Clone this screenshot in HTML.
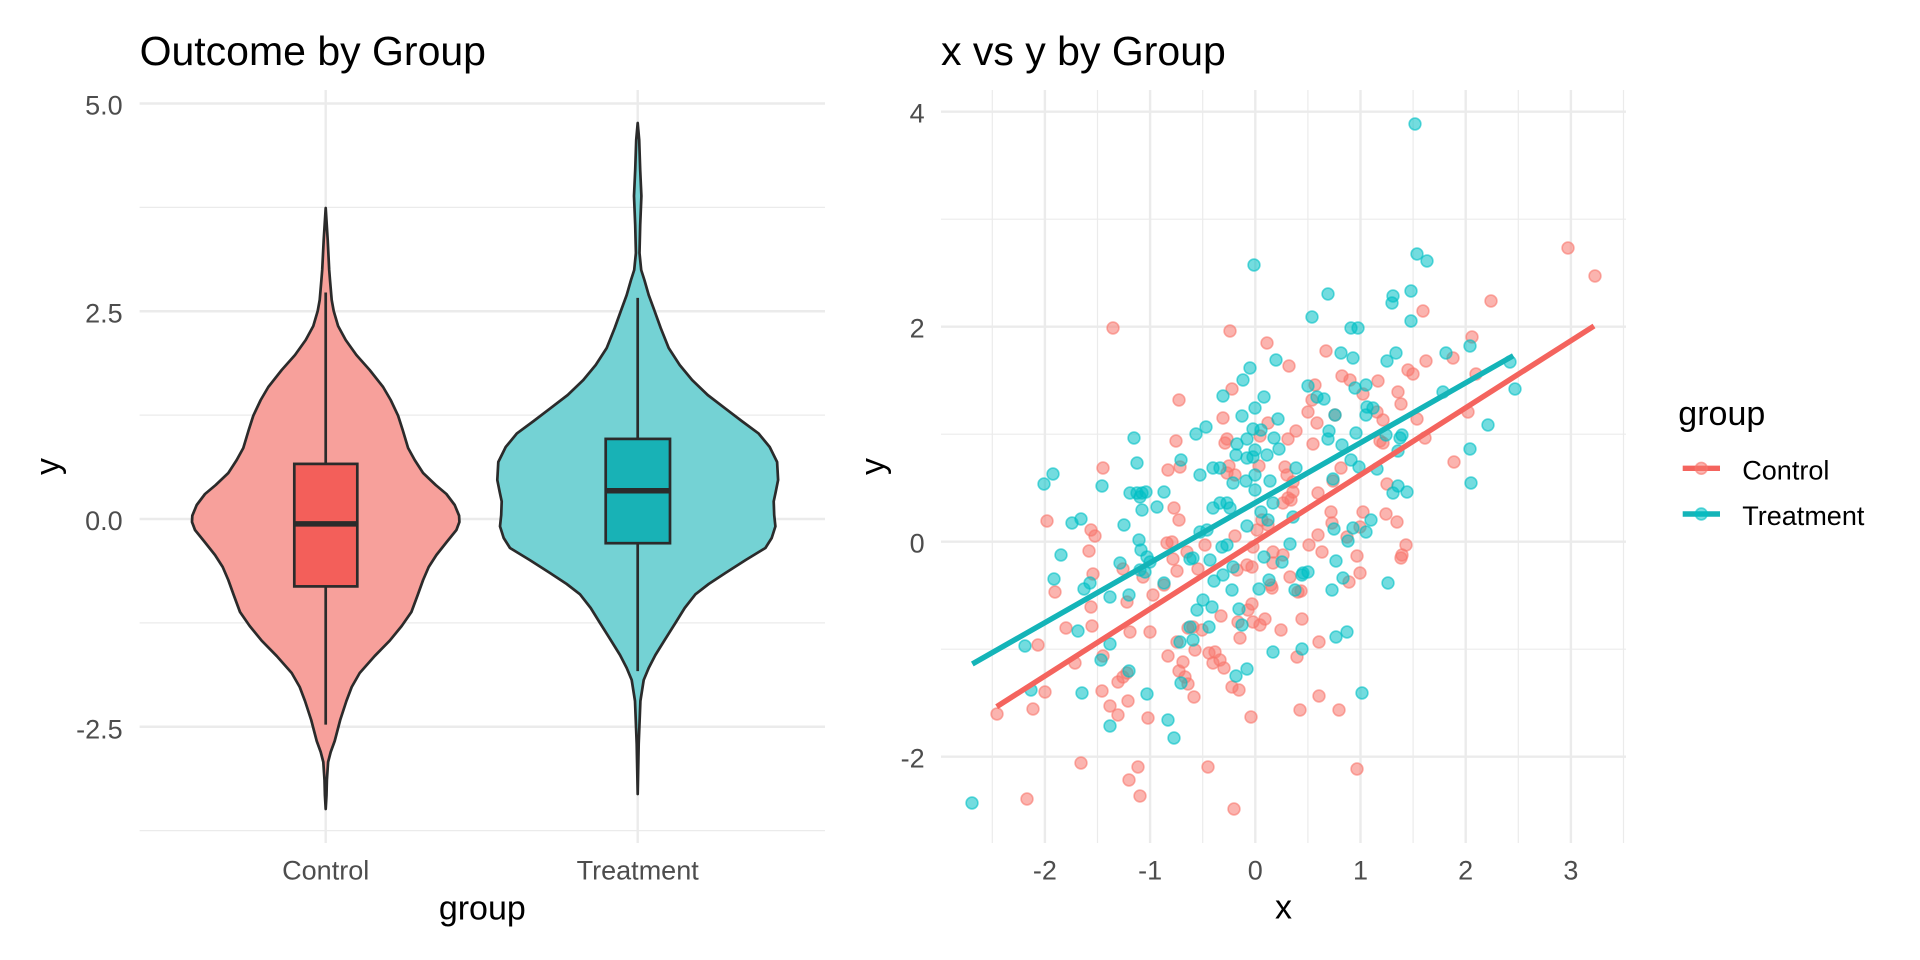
<!DOCTYPE html>
<html>
<head>
<meta charset="utf-8">
<style>
html,body{margin:0;padding:0;background:#fff;}
svg{display:block;}
text{font-family:"Liberation Sans",Arial,sans-serif;}
</style>
</head>
<body>
<svg width="1920" height="960" viewBox="0 0 1920 960" xmlns="http://www.w3.org/2000/svg">
<rect width="1920" height="960" fill="#fff"/>

<!-- ===== LEFT PANEL GRID ===== -->
<g stroke="#EBEBEB" fill="none">
  <g stroke-width="1.2">
    <line x1="139.6" y1="207.4" x2="825" y2="207.4"/>
    <line x1="139.6" y1="415.1" x2="825" y2="415.1"/>
    <line x1="139.6" y1="622.9" x2="825" y2="622.9"/>
    <line x1="139.6" y1="830.6" x2="825" y2="830.6"/>
  </g>
  <g stroke-width="2.4">
    <line x1="139.6" y1="103.5" x2="825" y2="103.5"/>
    <line x1="139.6" y1="311.25" x2="825" y2="311.25"/>
    <line x1="139.6" y1="519" x2="825" y2="519"/>
    <line x1="139.6" y1="726.75" x2="825" y2="726.75"/>
    <line x1="325.7" y1="90" x2="325.7" y2="843"/>
    <line x1="637.7" y1="90" x2="637.7" y2="843"/>
  </g>
</g>

<!-- ===== VIOLINS ===== -->
<polygon fill="#F7A09B" stroke="#2B2B2B" stroke-width="2.7" stroke-linejoin="round" points="325.7,208 323.7,240 322.2,270 321.4,280 319.7,300 317.7,311 313.3,326 305.7,340 295,355 281.7,370 268.3,387 260.7,400 253.3,415.7 248.7,430 243.3,448 236.7,460 228.3,473 215.7,485 205,494 196.7,505 192.3,515.7 192,522 195,530 204.7,542 215,555 222.7,567 228.3,580 233.7,595 240,612 249.7,626 261.7,640.7 276.7,656 291.7,673 299.7,687 305,701 311.2,720 316.7,741 320.7,752 323.3,762 324.5,780 324.9,795 325.7,809 326.5,795 326.9,780 328.1,762 330.7,752 334.7,741 340.2,720 346.4,701 351.7,687 359.7,673 374.7,656 389.7,640.7 401.7,626 411.4,612 417.7,595 423.1,580 428.7,567 436.4,555 446.7,542 456.4,530 459.4,522 459.1,515.7 454.7,505 446.4,494 435.7,485 423.1,473 414.7,460 408.1,448 402.7,430 398.1,415.7 390.7,400 383.1,387 369.7,370 356.4,355 345.7,340 338.1,326 333.7,311 331.7,300 330,280 329.2,270 327.7,240"/>
<polygon fill="#74D2D4" stroke="#2B2B2B" stroke-width="2.7" stroke-linejoin="round" points="637.7,123 636.2,140 635.2,170 634,196 635.2,225 635.9,253 634.2,270 631,280 626.7,295 621.7,308.6 614.7,328 606.7,348 595.7,365 583.3,380 567.7,395 550,408.6 533.7,421 516.7,433.6 505.7,447 498.3,462 497.3,480 499.7,492 501.7,501.4 501.2,515 500,526.4 503.7,538 510,548 529.7,560 550,573 566.7,584 580,594.3 590.7,608 600,623 610.7,640 620,655 626.7,668 631.7,680 635,701 636.7,744 637.7,794 638.7,744 640.4,701 643.7,680 648.7,668 655.4,655 664.7,640 675.4,623 684.7,608 695.4,594.3 708.7,584 725.4,573 745.7,560 765.4,548 771.7,538 775.4,526.4 774.2,515 773.7,501.4 775.7,492 778.1,480 777.1,462 769.7,447 758.7,433.6 741.7,421 725.4,408.6 707.7,395 692.1,380 679.7,365 668.7,348 660.7,328 653.7,308.6 648.7,295 644.4,280 641.2,270 639.5,253 640.2,225 641.4,196 640.2,170 639.2,140"/>

<!-- ===== BOXPLOTS ===== -->
<g stroke="#2B2B2B" stroke-width="2.7">
  <line x1="325.7" y1="292.5" x2="325.7" y2="463.9"/>
  <line x1="325.7" y1="586.4" x2="325.7" y2="724.6"/>
  <rect x="294.3" y="463.9" width="63" height="122.5" fill="#F35F5A"/>
  <line x1="294.3" y1="523.9" x2="357.3" y2="523.9" stroke-width="5.5"/>
  <line x1="637.7" y1="297.9" x2="637.7" y2="438.9"/>
  <line x1="637.7" y1="543.2" x2="637.7" y2="671.1"/>
  <rect x="605.7" y="438.9" width="64.3" height="104.3" fill="#18B2B6"/>
  <line x1="605.7" y1="490.7" x2="670" y2="490.7" stroke-width="5.5"/>
</g>

<!-- ===== LEFT PANEL TEXT ===== -->
<text x="139.6" y="65" font-size="41" fill="#000">Outcome by Group</text>
<g font-size="27" fill="#4D4D4D" text-anchor="end">
  <text x="122.7" y="114.5">5.0</text>
  <text x="122.7" y="322.3">2.5</text>
  <text x="122.7" y="530">0.0</text>
  <text x="122.7" y="738.5">-2.5</text>
</g>
<g font-size="27" fill="#4D4D4D" text-anchor="middle">
  <text x="325.7" y="879.3">Control</text>
  <text x="637.7" y="879.3">Treatment</text>
</g>
<text x="482.3" y="919.3" font-size="34" text-anchor="middle" fill="#000">group</text>
<text transform="translate(59.2,466.5) rotate(-90)" font-size="34" text-anchor="middle" fill="#000">y</text>

<!-- ===== RIGHT PANEL GRID ===== -->
<g stroke="#EBEBEB" fill="none">
  <g stroke-width="1.2">
    <line x1="941" y1="219.2" x2="1626" y2="219.2"/>
    <line x1="941" y1="434.2" x2="1626" y2="434.2"/>
    <line x1="941" y1="649.2" x2="1626" y2="649.2"/>
    <line x1="992.3" y1="90" x2="992.3" y2="843"/>
    <line x1="1097.5" y1="90" x2="1097.5" y2="843"/>
    <line x1="1202.7" y1="90" x2="1202.7" y2="843"/>
    <line x1="1307.9" y1="90" x2="1307.9" y2="843"/>
    <line x1="1413.1" y1="90" x2="1413.1" y2="843"/>
    <line x1="1518.3" y1="90" x2="1518.3" y2="843"/>
    <line x1="1623.5" y1="90" x2="1623.5" y2="843"/>
  </g>
  <g stroke-width="2.4">
    <line x1="941" y1="111.7" x2="1626" y2="111.7"/>
    <line x1="941" y1="326.7" x2="1626" y2="326.7"/>
    <line x1="941" y1="541.7" x2="1626" y2="541.7"/>
    <line x1="941" y1="756.7" x2="1626" y2="756.7"/>
    <line x1="1044.9" y1="90" x2="1044.9" y2="843"/>
    <line x1="1150.1" y1="90" x2="1150.1" y2="843"/>
    <line x1="1255.3" y1="90" x2="1255.3" y2="843"/>
    <line x1="1360.5" y1="90" x2="1360.5" y2="843"/>
    <line x1="1465.7" y1="90" x2="1465.7" y2="843"/>
    <line x1="1570.9" y1="90" x2="1570.9" y2="843"/>
  </g>
</g>

<!-- ===== SCATTER: CONTROL ===== -->
<g fill="#F8766D" fill-opacity="0.55" stroke="#F8766D" stroke-opacity="0.6" stroke-width="1.6">
<circle cx="1113" cy="328" r="5.9"/><circle cx="1230" cy="331" r="5.9"/><circle cx="1267" cy="343" r="5.9"/><circle cx="1289" cy="366" r="5.9"/><circle cx="1232" cy="389" r="5.9"/><circle cx="1179" cy="400" r="5.9"/><circle cx="1223" cy="418" r="5.9"/><circle cx="1268" cy="423" r="5.9"/><circle cx="1296" cy="431" r="5.9"/><circle cx="1260" cy="436" r="5.9"/><circle cx="1288" cy="439" r="5.9"/><circle cx="1227" cy="439" r="5.9"/><circle cx="1225" cy="443" r="5.9"/><circle cx="1176" cy="441" r="5.9"/><circle cx="1103" cy="468" r="5.9"/><circle cx="1168" cy="470" r="5.9"/><circle cx="1229" cy="466" r="5.9"/><circle cx="1259" cy="466" r="5.9"/><circle cx="1285" cy="467" r="5.9"/>
<circle cx="1568" cy="248" r="5.9"/><circle cx="1595" cy="276" r="5.9"/><circle cx="1491" cy="301" r="5.9"/><circle cx="1423" cy="311" r="5.9"/><circle cx="1472" cy="337" r="5.9"/><circle cx="1326" cy="351" r="5.9"/><circle cx="1453" cy="358" r="5.9"/><circle cx="1426" cy="361" r="5.9"/><circle cx="1408" cy="370" r="5.9"/><circle cx="1413" cy="374" r="5.9"/><circle cx="1342" cy="376" r="5.9"/><circle cx="1350" cy="380" r="5.9"/><circle cx="1378" cy="381" r="5.9"/><circle cx="1476" cy="374" r="5.9"/><circle cx="1315" cy="385" r="5.9"/><circle cx="1398" cy="392" r="5.9"/><circle cx="1363" cy="394" r="5.9"/><circle cx="1312" cy="400" r="5.9"/><circle cx="1401" cy="404" r="5.9"/><circle cx="1308" cy="412" r="5.9"/><circle cx="1377" cy="412" r="5.9"/><circle cx="1468" cy="412" r="5.9"/><circle cx="1335" cy="415" r="5.9"/><circle cx="1317" cy="423" r="5.9"/><circle cx="1383" cy="420" r="5.9"/><circle cx="1417" cy="419" r="5.9"/><circle cx="1313" cy="444" r="5.9"/><circle cx="1380" cy="441" r="5.9"/><circle cx="1383" cy="443" r="5.9"/><circle cx="1425" cy="438" r="5.9"/><circle cx="1454" cy="462" r="5.9"/><circle cx="1341" cy="468" r="5.9"/>
<circle cx="1180" cy="467" r="5.9"/><circle cx="1227" cy="473" r="5.9"/><circle cx="1235" cy="475" r="5.9"/><circle cx="1287" cy="475" r="5.9"/><circle cx="1293" cy="482" r="5.9"/>
<circle cx="1047" cy="521" r="5.9"/><circle cx="1091" cy="530" r="5.9"/><circle cx="1095" cy="536" r="5.9"/><circle cx="1174" cy="508" r="5.9"/><circle cx="1179" cy="520" r="5.9"/><circle cx="1283" cy="503" r="5.9"/><circle cx="1288" cy="498" r="5.9"/><circle cx="1257" cy="530" r="5.9"/><circle cx="1262" cy="520" r="5.9"/><circle cx="1268" cy="525" r="5.9"/><circle cx="1089" cy="551" r="5.9"/><circle cx="1167" cy="543" r="5.9"/><circle cx="1172" cy="542" r="5.9"/><circle cx="1187" cy="552" r="5.9"/><circle cx="1205" cy="545" r="5.9"/><circle cx="1235" cy="536" r="5.9"/><circle cx="1253" cy="547" r="5.9"/><circle cx="1273" cy="552" r="5.9"/><circle cx="1283" cy="555" r="5.9"/><circle cx="1093" cy="574" r="5.9"/><circle cx="1123" cy="569" r="5.9"/><circle cx="1173" cy="559" r="5.9"/><circle cx="1177" cy="571" r="5.9"/><circle cx="1198" cy="569" r="5.9"/><circle cx="1237" cy="570" r="5.9"/><circle cx="1247" cy="565" r="5.9"/><circle cx="1252" cy="567" r="5.9"/><circle cx="1273" cy="563" r="5.9"/><circle cx="1290" cy="577" r="5.9"/><circle cx="1055" cy="592" r="5.9"/><circle cx="1143" cy="577" r="5.9"/><circle cx="1153" cy="595" r="5.9"/><circle cx="1164" cy="585" r="5.9"/><circle cx="1271" cy="585" r="5.9"/><circle cx="1272" cy="588" r="5.9"/><circle cx="1091" cy="607" r="5.9"/><circle cx="1127" cy="602" r="5.9"/><circle cx="1252" cy="604" r="5.9"/><circle cx="1248" cy="610" r="5.9"/><circle cx="1221" cy="616" r="5.9"/><circle cx="1066" cy="628" r="5.9"/><circle cx="1092" cy="626" r="5.9"/><circle cx="1130" cy="632" r="5.9"/><circle cx="1150" cy="632" r="5.9"/><circle cx="1188" cy="628" r="5.9"/><circle cx="1193" cy="627" r="5.9"/><circle cx="1202" cy="630" r="5.9"/><circle cx="1238" cy="622" r="5.9"/><circle cx="1253" cy="622" r="5.9"/><circle cx="1260" cy="625" r="5.9"/><circle cx="1265" cy="619" r="5.9"/><circle cx="1281" cy="630" r="5.9"/><circle cx="1302" cy="619" r="5.9"/><circle cx="1240" cy="638" r="5.9"/><circle cx="1038" cy="645" r="5.9"/><circle cx="1177" cy="642" r="5.9"/><circle cx="1195" cy="650" r="5.9"/><circle cx="1075" cy="663" r="5.9"/><circle cx="1103" cy="656" r="5.9"/><circle cx="1168" cy="656" r="5.9"/><circle cx="1183" cy="662" r="5.9"/><circle cx="1209" cy="653" r="5.9"/><circle cx="1215" cy="652" r="5.9"/><circle cx="1220" cy="660" r="5.9"/><circle cx="1213" cy="663" r="5.9"/><circle cx="1224" cy="668" r="5.9"/><circle cx="1297" cy="657" r="5.9"/><circle cx="1118" cy="682" r="5.9"/><circle cx="1123" cy="677" r="5.9"/><circle cx="1127" cy="673" r="5.9"/><circle cx="1179" cy="671" r="5.9"/><circle cx="1185" cy="677" r="5.9"/><circle cx="1188" cy="684" r="5.9"/><circle cx="1194" cy="697" r="5.9"/><circle cx="1232" cy="687" r="5.9"/><circle cx="1239" cy="690" r="5.9"/><circle cx="1045" cy="692" r="5.9"/><circle cx="1102" cy="691" r="5.9"/><circle cx="1128" cy="701" r="5.9"/><circle cx="997" cy="714" r="5.9"/><circle cx="1033" cy="709" r="5.9"/><circle cx="1110" cy="706" r="5.9"/><circle cx="1118" cy="715" r="5.9"/><circle cx="1148" cy="718" r="5.9"/><circle cx="1251" cy="717" r="5.9"/><circle cx="1300" cy="710" r="5.9"/><circle cx="1081" cy="763" r="5.9"/><circle cx="1138" cy="767" r="5.9"/><circle cx="1129" cy="780" r="5.9"/><circle cx="1140" cy="796" r="5.9"/><circle cx="1208" cy="767" r="5.9"/><circle cx="1027" cy="799" r="5.9"/><circle cx="1234" cy="809" r="5.9"/>
<circle cx="1333" cy="481" r="5.9"/><circle cx="1318" cy="493" r="5.9"/><circle cx="1293" cy="492" r="5.9"/><circle cx="1291" cy="500" r="5.9"/><circle cx="1387" cy="484" r="5.9"/><circle cx="1331" cy="512" r="5.9"/><circle cx="1363" cy="512" r="5.9"/><circle cx="1386" cy="514" r="5.9"/><circle cx="1397" cy="522" r="5.9"/><circle cx="1332" cy="523" r="5.9"/><circle cx="1318" cy="535" r="5.9"/><circle cx="1360" cy="527" r="5.9"/><circle cx="1347" cy="537" r="5.9"/><circle cx="1309" cy="545" r="5.9"/><circle cx="1322" cy="552" r="5.9"/><circle cx="1357" cy="556" r="5.9"/><circle cx="1406" cy="545" r="5.9"/><circle cx="1402" cy="555" r="5.9"/><circle cx="1401" cy="558" r="5.9"/><circle cx="1360" cy="573" r="5.9"/><circle cx="1349" cy="582" r="5.9"/><circle cx="1298" cy="592" r="5.9"/><circle cx="1301" cy="591" r="5.9"/><circle cx="1319" cy="642" r="5.9"/><circle cx="1319" cy="696" r="5.9"/><circle cx="1339" cy="710" r="5.9"/><circle cx="1357" cy="769" r="5.9"/>
</g>

<!-- ===== SCATTER: TREATMENT ===== -->
<g fill="#00BFC4" fill-opacity="0.55" stroke="#00BFC4" stroke-opacity="0.6" stroke-width="1.6">
<circle cx="1254" cy="265" r="5.9"/><circle cx="1250" cy="368" r="5.9"/><circle cx="1276" cy="360" r="5.9"/><circle cx="1243" cy="380" r="5.9"/><circle cx="1223" cy="396" r="5.9"/><circle cx="1264" cy="397" r="5.9"/><circle cx="1255" cy="408" r="5.9"/><circle cx="1242" cy="416" r="5.9"/><circle cx="1278" cy="419" r="5.9"/><circle cx="1206" cy="427" r="5.9"/><circle cx="1196" cy="434" r="5.9"/><circle cx="1134" cy="438" r="5.9"/><circle cx="1137" cy="463" r="5.9"/><circle cx="1181" cy="460" r="5.9"/><circle cx="1253" cy="429" r="5.9"/><circle cx="1261" cy="430" r="5.9"/><circle cx="1274" cy="438" r="5.9"/><circle cx="1247" cy="439" r="5.9"/><circle cx="1237" cy="444" r="5.9"/><circle cx="1255" cy="450" r="5.9"/><circle cx="1279" cy="449" r="5.9"/><circle cx="1267" cy="455" r="5.9"/><circle cx="1236" cy="455" r="5.9"/><circle cx="1247" cy="458" r="5.9"/><circle cx="1253" cy="457" r="5.9"/><circle cx="1213" cy="468" r="5.9"/>
<circle cx="1415" cy="124" r="5.9"/><circle cx="1417" cy="254" r="5.9"/><circle cx="1427" cy="261" r="5.9"/><circle cx="1328" cy="294" r="5.9"/><circle cx="1411" cy="291" r="5.9"/><circle cx="1393" cy="296" r="5.9"/><circle cx="1392" cy="303" r="5.9"/><circle cx="1312" cy="317" r="5.9"/><circle cx="1411" cy="321" r="5.9"/><circle cx="1351" cy="328" r="5.9"/><circle cx="1358" cy="328" r="5.9"/><circle cx="1341" cy="353" r="5.9"/><circle cx="1353" cy="358" r="5.9"/><circle cx="1396" cy="353" r="5.9"/><circle cx="1387" cy="361" r="5.9"/><circle cx="1446" cy="353" r="5.9"/><circle cx="1470" cy="346" r="5.9"/><circle cx="1510" cy="362" r="5.9"/><circle cx="1515" cy="389" r="5.9"/><circle cx="1308" cy="386" r="5.9"/><circle cx="1355" cy="388" r="5.9"/><circle cx="1366" cy="385" r="5.9"/><circle cx="1443" cy="392" r="5.9"/><circle cx="1317" cy="397" r="5.9"/><circle cx="1324" cy="399" r="5.9"/><circle cx="1367" cy="407" r="5.9"/><circle cx="1373" cy="408" r="5.9"/><circle cx="1366" cy="415" r="5.9"/><circle cx="1335" cy="415" r="5.9"/><circle cx="1488" cy="425" r="5.9"/><circle cx="1329" cy="431" r="5.9"/><circle cx="1356" cy="433" r="5.9"/><circle cx="1328" cy="439" r="5.9"/><circle cx="1386" cy="435" r="5.9"/><circle cx="1402" cy="435" r="5.9"/><circle cx="1400" cy="438" r="5.9"/><circle cx="1342" cy="445" r="5.9"/><circle cx="1470" cy="449" r="5.9"/><circle cx="1398" cy="451" r="5.9"/><circle cx="1351" cy="460" r="5.9"/><circle cx="1359" cy="467" r="5.9"/><circle cx="1296" cy="468" r="5.9"/><circle cx="1377" cy="469" r="5.9"/>
<circle cx="1053" cy="474" r="5.9"/><circle cx="1044" cy="484" r="5.9"/><circle cx="1102" cy="486" r="5.9"/><circle cx="1200" cy="475" r="5.9"/><circle cx="1220" cy="468" r="5.9"/><circle cx="1130" cy="493" r="5.9"/><circle cx="1137" cy="493" r="5.9"/><circle cx="1142" cy="493" r="5.9"/><circle cx="1146" cy="492" r="5.9"/><circle cx="1140" cy="497" r="5.9"/><circle cx="1164" cy="492" r="5.9"/><circle cx="1142" cy="510" r="5.9"/><circle cx="1157" cy="507" r="5.9"/><circle cx="1246" cy="481" r="5.9"/><circle cx="1255" cy="475" r="5.9"/><circle cx="1270" cy="481" r="5.9"/><circle cx="1255" cy="490" r="5.9"/><circle cx="1233" cy="483" r="5.9"/><circle cx="1072" cy="523" r="5.9"/><circle cx="1081" cy="519" r="5.9"/><circle cx="1124" cy="525" r="5.9"/><circle cx="1213" cy="508" r="5.9"/><circle cx="1220" cy="503" r="5.9"/><circle cx="1227" cy="503" r="5.9"/><circle cx="1230" cy="508" r="5.9"/><circle cx="1261" cy="512" r="5.9"/><circle cx="1268" cy="520" r="5.9"/><circle cx="1273" cy="503" r="5.9"/><circle cx="1247" cy="526" r="5.9"/><circle cx="1061" cy="555" r="5.9"/><circle cx="1139" cy="540" r="5.9"/><circle cx="1141" cy="550" r="5.9"/><circle cx="1147" cy="557" r="5.9"/><circle cx="1150" cy="562" r="5.9"/><circle cx="1120" cy="563" r="5.9"/><circle cx="1140" cy="570" r="5.9"/><circle cx="1145" cy="572" r="5.9"/><circle cx="1054" cy="579" r="5.9"/><circle cx="1084" cy="589" r="5.9"/><circle cx="1090" cy="583" r="5.9"/><circle cx="1110" cy="597" r="5.9"/><circle cx="1129" cy="595" r="5.9"/><circle cx="1164" cy="583" r="5.9"/><circle cx="1190" cy="559" r="5.9"/><circle cx="1193" cy="558" r="5.9"/><circle cx="1210" cy="560" r="5.9"/><circle cx="1200" cy="532" r="5.9"/><circle cx="1207" cy="530" r="5.9"/><circle cx="1222" cy="547" r="5.9"/><circle cx="1227" cy="545" r="5.9"/><circle cx="1233" cy="567" r="5.9"/><circle cx="1214" cy="581" r="5.9"/><circle cx="1223" cy="575" r="5.9"/><circle cx="1232" cy="590" r="5.9"/><circle cx="1259" cy="589" r="5.9"/><circle cx="1264" cy="557" r="5.9"/><circle cx="1269" cy="580" r="5.9"/><circle cx="1282" cy="562" r="5.9"/><circle cx="1290" cy="544" r="5.9"/><circle cx="1295" cy="590" r="5.9"/><circle cx="1203" cy="600" r="5.9"/><circle cx="1212" cy="607" r="5.9"/><circle cx="1197" cy="610" r="5.9"/><circle cx="1239" cy="609" r="5.9"/><circle cx="1242" cy="625" r="5.9"/><circle cx="1209" cy="627" r="5.9"/><circle cx="1190" cy="627" r="5.9"/><circle cx="1078" cy="631" r="5.9"/><circle cx="1025" cy="646" r="5.9"/><circle cx="1110" cy="644" r="5.9"/><circle cx="1180" cy="642" r="5.9"/><circle cx="1193" cy="640" r="5.9"/><circle cx="1101" cy="660" r="5.9"/><circle cx="1129" cy="671" r="5.9"/><circle cx="1236" cy="676" r="5.9"/><circle cx="1247" cy="669" r="5.9"/><circle cx="1273" cy="652" r="5.9"/><circle cx="1181" cy="683" r="5.9"/><circle cx="1031" cy="690" r="5.9"/><circle cx="1082" cy="693" r="5.9"/><circle cx="1147" cy="694" r="5.9"/><circle cx="1110" cy="726" r="5.9"/><circle cx="1168" cy="720" r="5.9"/><circle cx="1174" cy="738" r="5.9"/><circle cx="972" cy="803" r="5.9"/>
<circle cx="1471" cy="483" r="5.9"/><circle cx="1398" cy="486" r="5.9"/><circle cx="1393" cy="493" r="5.9"/><circle cx="1407" cy="492" r="5.9"/><circle cx="1333" cy="479" r="5.9"/><circle cx="1293" cy="517" r="5.9"/><circle cx="1334" cy="529" r="5.9"/><circle cx="1353" cy="528" r="5.9"/><circle cx="1366" cy="532" r="5.9"/><circle cx="1371" cy="520" r="5.9"/><circle cx="1348" cy="541" r="5.9"/><circle cx="1336" cy="561" r="5.9"/><circle cx="1303" cy="573" r="5.9"/><circle cx="1308" cy="572" r="5.9"/><circle cx="1302" cy="575" r="5.9"/><circle cx="1343" cy="578" r="5.9"/><circle cx="1388" cy="583" r="5.9"/><circle cx="1332" cy="590" r="5.9"/><circle cx="1336" cy="637" r="5.9"/><circle cx="1347" cy="632" r="5.9"/><circle cx="1302" cy="649" r="5.9"/><circle cx="1362" cy="693" r="5.9"/>
</g>

<!-- ===== REGRESSION LINES ===== -->
<line x1="996.7" y1="706.7" x2="1594" y2="326" stroke="#F4645E" stroke-width="5.4" stroke-linecap="butt"/>
<line x1="972.3" y1="664" x2="1513.3" y2="355.7" stroke="#14B4B8" stroke-width="5.4" stroke-linecap="butt"/>

<!-- ===== RIGHT PANEL TEXT ===== -->
<text x="941" y="65" font-size="41" fill="#000">x vs y by Group</text>
<g font-size="27" fill="#4D4D4D" text-anchor="end">
  <text x="924.7" y="122.7">4</text>
  <text x="924.7" y="337.7">2</text>
  <text x="924.7" y="552.7">0</text>
  <text x="924.7" y="767.7">-2</text>
</g>
<g font-size="27" fill="#4D4D4D" text-anchor="middle">
  <text x="1044.9" y="879.3">-2</text>
  <text x="1150.1" y="879.3">-1</text>
  <text x="1255.3" y="879.3">0</text>
  <text x="1360.5" y="879.3">1</text>
  <text x="1465.7" y="879.3">2</text>
  <text x="1570.9" y="879.3">3</text>
</g>
<text x="1283.5" y="918.5" font-size="34" text-anchor="middle" fill="#000">x</text>
<text transform="translate(884.1,466.5) rotate(-90)" font-size="34" text-anchor="middle" fill="#000">y</text>

<!-- ===== LEGEND ===== -->
<text x="1678.3" y="425" font-size="34" fill="#000">group</text>
<line x1="1682.7" y1="468.3" x2="1720" y2="468.3" stroke="#F4645E" stroke-width="5.4"/>
<circle cx="1701.3" cy="468.3" r="5.9" fill="#F8766D" fill-opacity="0.55" stroke="#F8766D" stroke-opacity="0.6" stroke-width="1.6"/>
<text x="1742.3" y="479.3" font-size="27" fill="#000">Control</text>
<line x1="1682.7" y1="514" x2="1720" y2="514" stroke="#14B4B8" stroke-width="5.4"/>
<circle cx="1701.3" cy="514" r="5.9" fill="#00BFC4" fill-opacity="0.55" stroke="#00BFC4" stroke-opacity="0.6" stroke-width="1.6"/>
<text x="1742.3" y="525" font-size="27" fill="#000">Treatment</text>
</svg>
</body>
</html>
